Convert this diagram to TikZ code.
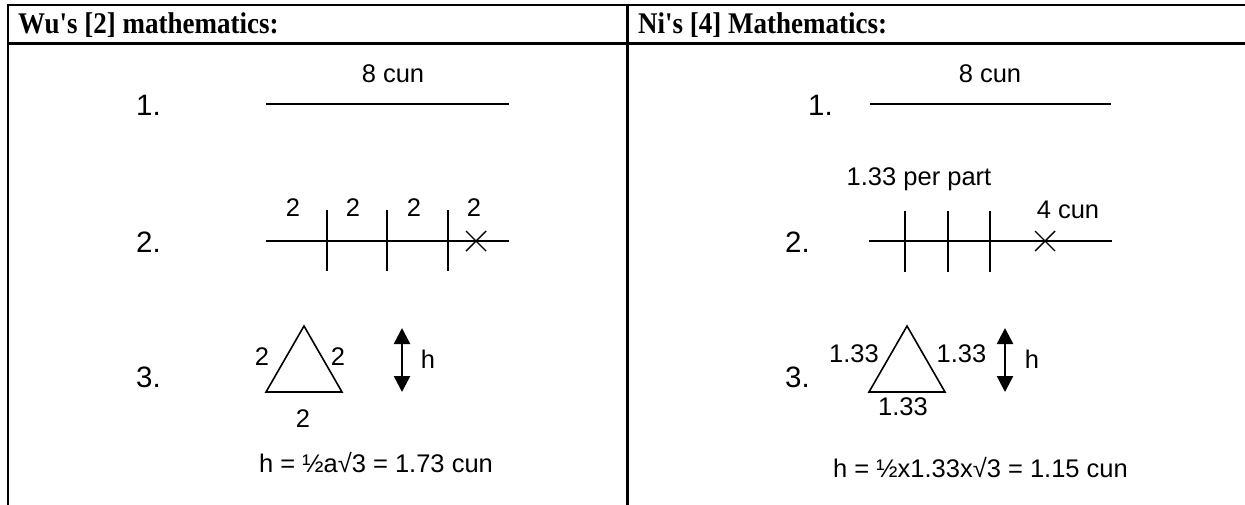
\documentclass[tikz,border=0pt]{standalone}
\usepackage{fontspec}
\setmainfont{Liberation Sans}
\newfontfamily\headfont{Liberation Serif}
\usetikzlibrary{arrows.meta}
\newcommand{\hdtext}[1]{\scalebox{0.9}[1]{#1}}
\begin{document}
\begin{tikzpicture}[x=1pt,y=-1pt,
  rule/.style={line width=2.2pt},
  seg/.style={line width=2pt},
  tick/.style={line width=2pt},
  cross/.style={line width=1.4pt},
  head/.style={font=\headfont\bfseries\fontsize{30}{32}\selectfont, anchor=base west, inner sep=0},
  num/.style={font=\fontsize{29.5}{32}\selectfont, anchor=base west, inner sep=0},
  lbl/.style={font=\fontsize{25.5}{28}\selectfont, anchor=base, inner sep=0},
  harrow/.style={line width=2.4pt, {Triangle[width=16pt,length=16pt]}-{Triangle[width=16pt,length=16pt]}}]
\useasboundingbox (0,0) rectangle (1245,504);
% table frame
\draw[rule] (8,5) -- (1250,5);
\draw[rule] (8,43.5) -- (1250,43.5);
\draw[rule] (8,4) -- (8,510);
\draw[rule] (627.5,4) -- (627.5,510);
% headers
\node[head] (hl) at (18,33) {\hdtext{Wu's [2] mathematics:}};
\node[head] (hr) at (638,33) {\hdtext{Ni's [4] Mathematics:}};
% ---------------- left panel ----------------
\node[num] (l1) at (136,115) {1.};
\node[num] (l2) at (136,252) {2.};
\node[num] (l3) at (136,387) {3.};
\draw[seg] (266,104) -- (509,104);
\node[lbl] (l8) at (393,82) {8 cun};
% row 2
\draw[seg] (266,241) -- (509,241);
\foreach \x in {327,387,448} \draw[tick] (\x,210) -- (\x,271);
\draw[cross] (466,231) -- (486,251) (466,251) -- (486,231);
\node[lbl] (la) at (293,216) {2};
\node[lbl] (lb) at (353,216) {2};
\node[lbl] (lc) at (414,216) {2};
\node[lbl] (ld) at (474,216) {2};
% row 3
\draw[line width=1.6pt, line join=miter] (266,392) -- (304,326) -- (342,392) -- cycle;
\node[lbl] (lt1) at (262,365) {2};
\node[lbl] (lt2) at (338,365) {2};
\node[lbl] (lt3) at (303,427) {2};
\draw[harrow] (402,328) -- (402,392);
\node[lbl] (lh) at (428,368) {h};
\node[lbl] (lf) at (376,472) {h = ½a√3 = 1.73 cun};
% ---------------- right panel ----------------
\node[num] (r1) at (808,115) {1.};
\node[num] (r2) at (785,252) {2.};
\node[num] (r3) at (785,387) {3.};
\draw[seg] (870,104) -- (1111,104);
\node[lbl] (r8) at (990,82) {8 cun};
% row 2
\node[lbl] (rp) at (919,185) {1.33 per part};
\node[lbl] (rc) at (1068,218) {4 cun};
\draw[seg] (869,241) -- (1112,241);
\foreach \x in {905,948,990} \draw[tick] (\x,211) -- (\x,272);
\draw[cross] (1035,231) -- (1055,251) (1035,251) -- (1055,231);
% row 3
\draw[line width=1.6pt, line join=miter] (869,392) -- (907,326) -- (945,392) -- cycle;
\node[lbl] (rt1) at (854,362) {1.33};
\node[lbl] (rt2) at (961.5,362) {1.33};
\node[lbl] (rt3) at (903,415) {1.33};
\draw[harrow] (1005,328) -- (1005,392);
\node[lbl] (rh) at (1032,368) {h};
\node[lbl] (rf) at (980.5,477) {h = ½x1.33x√3 = 1.15 cun};
\end{tikzpicture}
\end{document}
